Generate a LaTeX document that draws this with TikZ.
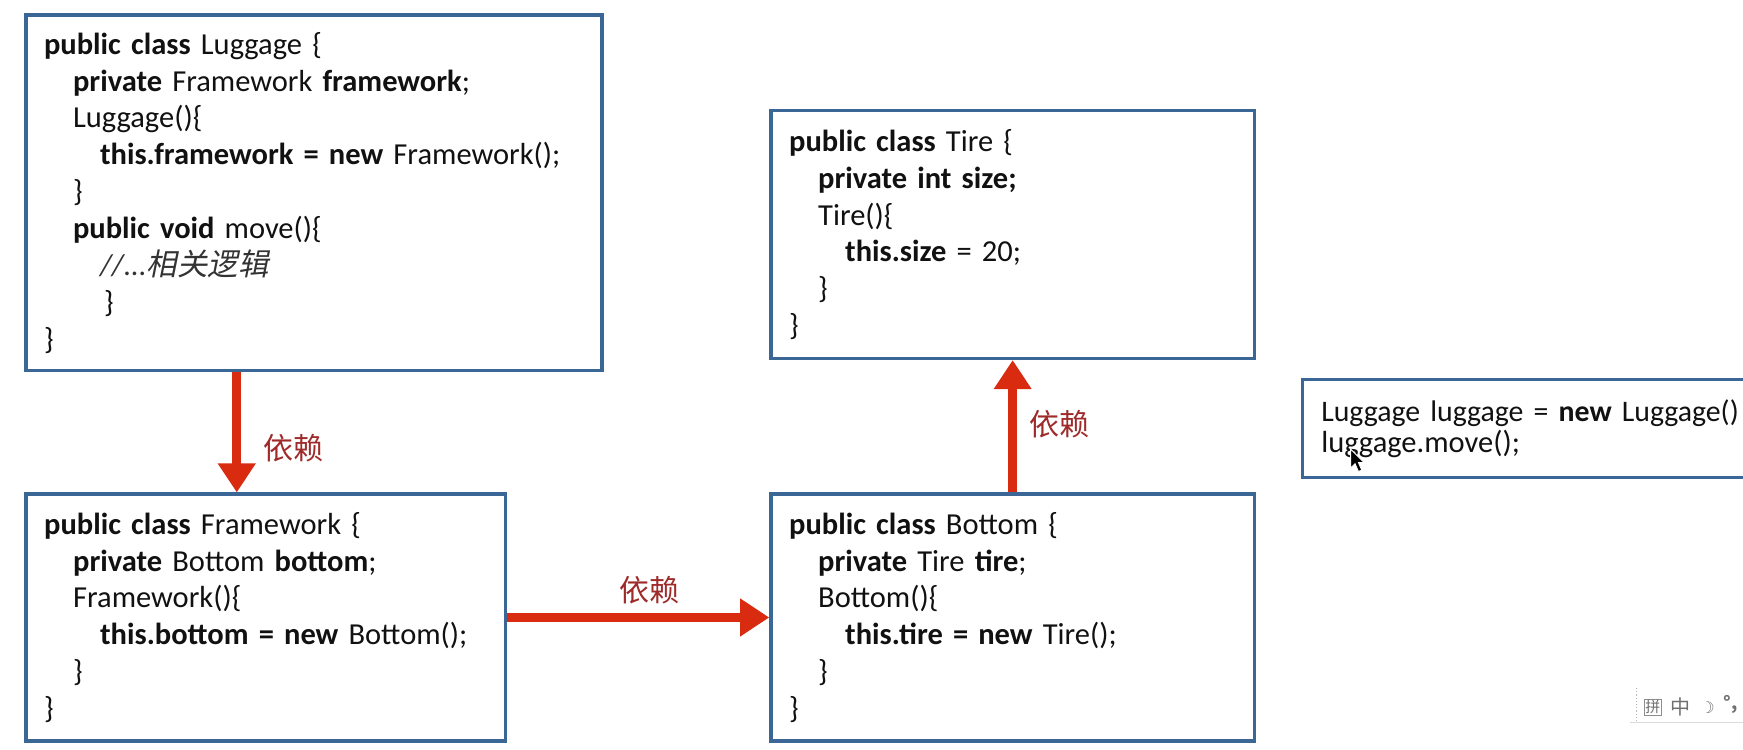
\documentclass[tikz,border=0pt]{standalone}
\usepackage{fontspec}
\setmainfont{Carlito}
\newfontfamily\cjk{Noto Sans CJK SC}
\newfontfamily\cjkit{Noto Sans CJK SC}[FakeSlant=0.2]
\newfontfamily\symfont{DejaVu Sans}
\usetikzlibrary{arrows.meta,calc}
\definecolor{boxblue}{HTML}{3B6797}
\definecolor{arrred}{HTML}{D92B10}
\definecolor{lblred}{HTML}{9E2A2A}
\definecolor{codeblack}{HTML}{111111}
\definecolor{imegray}{HTML}{707070}
\newdimen\unitpx
\unitpx=1.11161pt
\tikzset{
  codebox/.style={draw=boxblue, line width=3.3pt, fill=white, anchor=north west,
    align=left, inner xsep=18pt, inner ysep=0pt, text=codeblack,
    font=\fontsize{30.5}{36.9}\selectfont},
  dep/.style={draw=arrred, line width=9pt, -{Triangle[width=36pt,length=29pt]}},
  lbl/.style={text=lblred, font=\cjk\fontsize{30}{32}\selectfont, inner sep=0pt},
}
\newcommand{\indA}{\hspace*{29pt}}
\newcommand{\indB}{\hspace*{56pt}}
\begin{document}
\begin{tikzpicture}[x=\unitpx,y=-\unitpx]
\clip (0,0) rectangle (1568,673.8);
\fill[white] (0,0) rectangle (1568,673.8);

\node[codebox, minimum width=518\unitpx, minimum height=320\unitpx, text width=540pt] (lug) at (22,12) {%
\textbf{public class} Luggage \{\\
\indA\textbf{private} Framework \textbf{framework};\\
\indA Luggage()\{\\
\indB\textbf{this.framework = new} Framework();\\
\indA\}\\
\indA\textbf{public void} move()\{\\
\indB{\color{black!80}\itshape //...{\cjkit 相关逻辑}}\\
\hspace*{60pt}\}\\
\}};

\node[codebox, minimum width=431\unitpx, minimum height=222\unitpx, text width=443pt] (fw) at (22,443) {%
\textbf{public class} Framework \{\\
\indA\textbf{private} Bottom \textbf{bottom};\\
\indA Framework()\{\\
\indB\textbf{this.bottom = new} Bottom();\\
\indA\}\\
\}};

\node[codebox, minimum width=435\unitpx, minimum height=222\unitpx, text width=447pt] (bot) at (692,443) {%
\textbf{public class} Bottom \{\\
\indA\textbf{private} Tire \textbf{tire};\\
\indA Bottom()\{\\
\indB\textbf{this.tire = new} Tire();\\
\indA\}\\
\}};

\node[codebox, minimum width=435\unitpx, minimum height=223\unitpx, text width=447pt] (tire) at (692,98) {%
\textbf{public class} Tire \{\\
\indA\textbf{private int size;}\\
\indA Tire()\{\\
\indB\textbf{this.size} = 20;\\
\indA\}\\
\}};

\node[codebox, minimum width=700\unitpx, minimum height=88\unitpx, text width=740pt,
      font=\fontsize{30.5}{31.5}\selectfont] (run) at (1170,340) {%
{\fontsize{29.8}{31.5}\selectfont Luggage luggage = \textbf{new} Luggage()}\\
luggage.move();};

\draw[dep] ([xshift=191\unitpx]lug.south west) -- ([xshift=191\unitpx]fw.north west);
\draw[dep] (fw.east) -- (bot.west);
\draw[dep] (bot.north) -- (tire.south);

\node[lbl] (l1) at (264,403) {依赖};
\node[lbl] (l2) at (584,531) {依赖};
\node[lbl] (l3) at (953,382) {依赖};

% mouse cursor
\filldraw[fill=black, draw=white, line width=0.8pt]
  (1215,404) -- (1215,421) -- (1219,417) -- (1222,424) -- (1225,423) -- (1222,416) -- (1227,416) -- cycle;

% IME toolbar
\draw[imegray!50, dotted, line width=1.2pt] (1472,619) -- (1472,650);
\draw[imegray!25, line width=0.8pt] (1466,650) -- (1568,650);
\node[draw=imegray!80, line width=0.8pt, inner sep=1pt, text=imegray, font=\cjk\fontsize{15}{15}\selectfont] (ime1) at (1487,636) {拼};
\node[text=imegray, font=\cjk\fontsize{20}{20}\selectfont, inner sep=0pt] (ime2) at (1512,636) {中};
\node[text=imegray, font=\symfont\fontsize{16}{16}\selectfont, inner sep=0pt] (ime3) at (1536,637) {☽};
\node[text=imegray, font=\cjk\bfseries\fontsize{18}{18}\selectfont, inner sep=0pt] (ime4) at (1557,634) {°,};
\end{tikzpicture}
\end{document}
